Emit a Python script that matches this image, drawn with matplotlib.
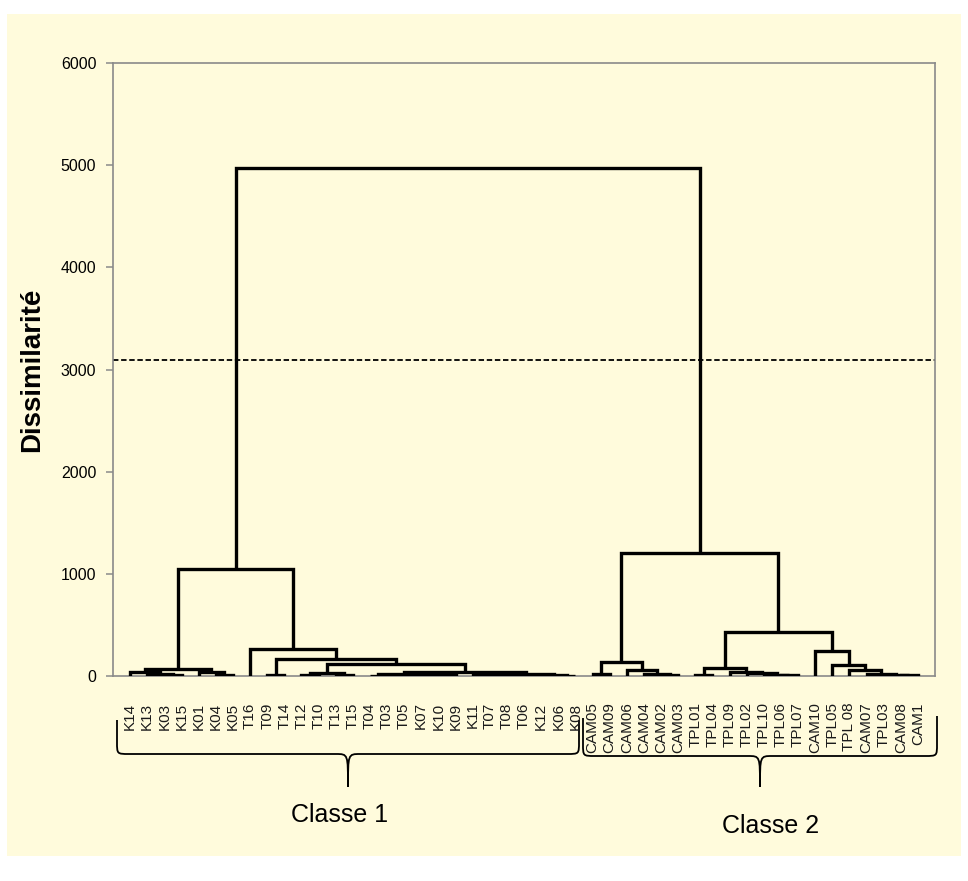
import matplotlib.pyplot as plt
from matplotlib.path import Path
from matplotlib.patches import PathPatch, Rectangle

# leaves, in dendrogram order
class1_leaves = ["K14", "K13", "K03", "K15", "K01", "K04", "K05", "T16", "T09", "T14",
                 "T12", "T10", "T13", "T15", "T04", "T03", "T05", "K07", "K10", "K09",
                 "K11", "T07", "T08", "T06", "K12", "K06", "K08"]
class2_leaves = ["CAM05", "CAM09", "CAM06", "CAM04", "CAM02", "CAM03", "TPL01", "TPL04",
                 "TPL09", "TPL02", "TPL10", "TPL06", "TPL07", "CAM10", "TPL05", "TPL 08",
                 "CAM07", "TPL03", "CAM08", "CAM1"]
leaves = class1_leaves + class2_leaves

# merges as (left, right, dissimilarity)
k_low = (("K14", ("K13", ("K03", "K15", 5), 15), 40), ("K01", ("K04", "K05", 10), 40), 65)
t_a = (("T04", "T03", 4), (("T05", "K07", 4), ("K10", "K09", 6), 10), 20)
t_b = ((("K11", "T07", 5), ("T08", "T06", 4), 10), ("K12", ("K06", "K08", 3), 8), 18)
t_mid = ((("T12", "T10", 5), ("T13", "T15", 10), 25), (t_a, t_b, 35), 115)
t_high = ("T16", (("T09", "T14", 5), t_mid, 170), 268)
class1 = (k_low, t_high, 1045)

cam_grp = (("CAM05", "CAM09", 15), ("CAM06", ("CAM04", ("CAM02", "CAM03", 5), 15), 60), 135)
tpl_grp = (("TPL01", "TPL04", 5), ("TPL09", ("TPL02", ("TPL10", ("TPL06", "TPL07", 5), 12), 25), 40), 75)
mix_grp = ("CAM10", ("TPL05", ("TPL 08", ("CAM07", ("TPL03", ("CAM08", "CAM1", 5), 10), 20), 60), 108), 240)
class2 = (cam_grp, (tpl_grp, mix_grp, 430), 1200)

tree = (class1, class2, 4975)
cut_level = 3090

yticks = [0, 1000, 2000, 3000, 4000, 5000, 6000]

cream = "#FFFBDC"
gray = "#8A8A8A"

fig = plt.figure(figsize=(9.68, 8.81), dpi=100, facecolor="white")

# background panel and annotations in pixel coordinates
bg = fig.add_axes([0, 0, 1, 1], zorder=-1)
bg.set_xlim(0, 968)
bg.set_ylim(881, 0)
bg.axis("off")
bg.add_patch(Rectangle((7, 14), 954, 842, facecolor=cream, edgecolor="none"))


def brace(x0, x1, xc, ytop0, ytop1, yline, ytip, r=12):
    verts = [(x0, ytop0), (x0, yline - r), (x0, yline), (x0, yline), (x0 + r, yline),
             (xc - r, yline), (xc, yline), (xc, yline), (xc, ytip),
             (xc, yline), (xc, yline), (xc + r, yline),
             (x1 - r, yline), (x1, yline), (x1, yline), (x1, yline - r), (x1, ytop1)]
    codes = [Path.MOVETO, Path.LINETO, Path.CURVE4, Path.CURVE4, Path.CURVE4,
             Path.LINETO, Path.CURVE4, Path.CURVE4, Path.CURVE4,
             Path.CURVE4, Path.CURVE4, Path.CURVE4,
             Path.LINETO, Path.CURVE4, Path.CURVE4, Path.CURVE4, Path.LINETO]
    bg.add_patch(PathPatch(Path(verts, codes), facecolor="none", edgecolor="black", lw=1.3))


brace(117, 579, 348, 720, 720, 754, 787)
brace(583, 937, 760, 718, 716, 756, 787)
bg.text(340, 815, "Classe 1", fontsize=18, family="Liberation Sans", ha="center", va="center")
bg.text(771, 826, "Classe 2", fontsize=18, family="Liberation Sans", ha="center", va="center")

ax = fig.add_axes([113 / 968, 1 - 676 / 881, 822 / 968, 613 / 881])
ax.set_facecolor("none")

pos = {name: i for i, name in enumerate(leaves)}


def draw(node):
    # returns x centre and height of the node, drawing the U for each merge
    if isinstance(node, str):
        return pos[node], 0
    xl, hl = draw(node[0])
    xr, hr = draw(node[1])
    h = node[2]
    ax.plot([xl, xl, xr, xr], [hl, h, h, hr], color="black", lw=2.4,
            solid_joinstyle="miter", solid_capstyle="butt", zorder=3)
    return (xl + xr) / 2, h


draw(tree)

ax.axhline(cut_level, color="black", lw=1.3, ls=(0, (3, 1.5)), zorder=2)

ax.set_xlim(-1, len(leaves))
ax.set_ylim(0, 6000)
ax.set_yticks(yticks)
ax.set_yticklabels([str(v) for v in yticks], fontsize=11.5, family="Liberation Sans")
ax.set_xticks(range(len(leaves)))
ax.set_xticklabels(leaves, rotation=90, fontsize=11, family="Liberation Sans",
                   va="top", ha="center", color="#1a1a1a")
ax.tick_params(axis="x", length=0, pad=19)
ax.tick_params(axis="y", length=5, width=1.1, color=gray, pad=7)
for s in ax.spines.values():
    s.set_color(gray)
    s.set_linewidth(1.2)

ax.set_ylabel("Dissimilarité", fontsize=20, fontweight="bold", family="Liberation Sans")
ax.yaxis.set_label_coords(-0.083, 0.5)

fig.savefig("out.png", dpi=100, facecolor="white")
